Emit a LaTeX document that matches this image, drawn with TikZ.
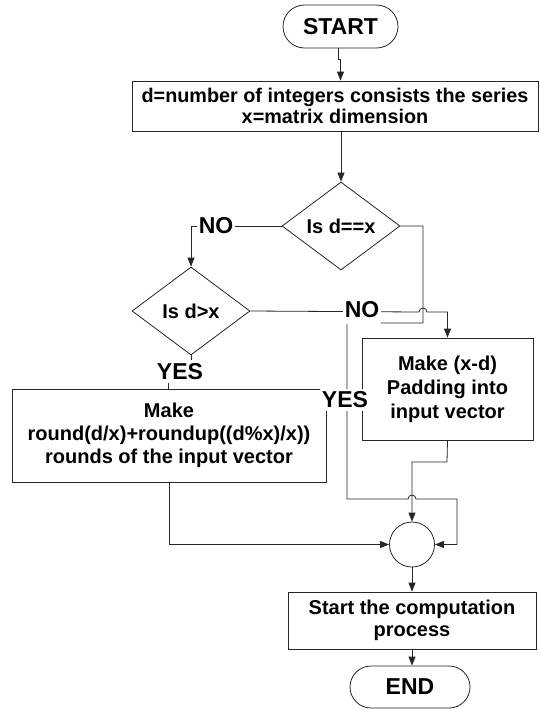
\documentclass[tikz,border=0pt]{standalone}
\usepackage{fontspec}
\setmainfont{Liberation Sans}
\usetikzlibrary{arrows.meta,shapes.geometric,shapes.misc}
\begin{document}
\begin{tikzpicture}[x=1pt,y=-1pt,
  line/.style={draw=black!85,line width=0.8pt},
  arr/.style={line,-{Triangle[length=9pt,width=7pt]}},
  box/.style={draw=black!85,line width=0.8pt,rectangle,inner sep=0pt,align=center,
    font=\bfseries\fontsize{20}{22}\selectfont},
  term/.style={draw=black!85,line width=0.8pt,rounded rectangle,inner sep=0pt,
    font=\bfseries\fontsize{23}{26}\selectfont},
  dec/.style={draw=black!85,line width=0.8pt,diamond,inner sep=0pt,
    font=\bfseries\fontsize{20}{22}\selectfont},
  lab/.style={fill=white,inner xsep=2pt,inner ysep=3pt,
    font=\bfseries\fontsize{23}{26}\selectfont}]
\useasboundingbox (0,0) rectangle (539,710);

\node[term,minimum width=115pt,minimum height=43pt] (start) at (340.5,26.5) {START};
\node[box,minimum width=406pt,minimum height=50pt,
  font=\bfseries\fontsize{19.8}{20.7}\selectfont] (b1) at (335,106)
  {d=number of integers consists the series\\x=matrix dimension};
\node[dec,minimum width=118pt,minimum height=88pt] (d1) at (341,226) {Is d==x};
\node[dec,minimum width=118pt,minimum height=88pt] (d2) at (191,311) {Is d>x};
\node[box,minimum width=171pt,minimum height=102pt,
  font=\bfseries\fontsize{20}{24}\selectfont] (pad) at (447.5,389)
  {Make (x-d)\\Padding into\\input vector};
\node[box,minimum width=314pt,minimum height=93pt,
  font=\bfseries\fontsize{20}{23}\selectfont] (rnd) at (169,435.5)
  {Make\\round(d/x)+roundup((d\%x)/x))\\rounds of the input vector};
\node[circle,draw=black!85,line width=0.8pt,minimum size=45pt,inner sep=0pt] (c) at (412,544.5) {};
\node[box,minimum width=248pt,minimum height=57pt] (fin) at (412,620.5)
  {Start the computation\\process};
\node[term,minimum width=120pt,minimum height=42pt] (end) at (410,687) {END};

% start -> box1
\draw[arr] ([xshift=-2pt]start.south) -- ++(0,11) -- ++(2,0) -- (start.south |- b1.north);
% box1 -> d1
\draw[arr] (b1.south -| d1.north) -- (d1.north);
% d1 NO -> d2
\draw[arr] (d1.west) -| (d2.north);
\node[lab] (no1) at (216,226) {NO};
% d1 YES -> circle
\coordinate (y1) at (423,226);
\coordinate (y2) at (423,323);
\coordinate (y3) at (347,323);
\coordinate (y4) at (347,499);
\coordinate (y5) at (457,499);
\draw[arr] (d1.east) -- (y1) -- (y2) -- (y3) -- (y4) -- (408,499)
  arc[start angle=180,end angle=0,radius=4pt] -- (y5) |- (c.east);
\node[lab] (yes1) at (345,400) {YES};
% d2 NO -> pad
\draw[arr] (d2.east) -- (419,312) arc[start angle=180,end angle=0,radius=4pt]
  -| (pad.north);
\node[lab,inner ysep=6pt] (no2) at (362,310) {NO};
% d2 YES -> rnd
\draw[line] (d2.south) -- (191,372) -| (168,389);
\node[lab] (yes2) at (180,371.5) {YES};
% pad -> circle
\draw[arr] (pad.south) -- (447,462) -| (c.north);
% rnd -> circle
\draw[arr] (rnd.south) |- (c.west);
% circle -> fin
\draw[arr] (c.south) -- (fin.north);
% fin -> end
\draw[arr] (fin.south) -- (fin.south |- end.north);
\end{tikzpicture}
\end{document}
